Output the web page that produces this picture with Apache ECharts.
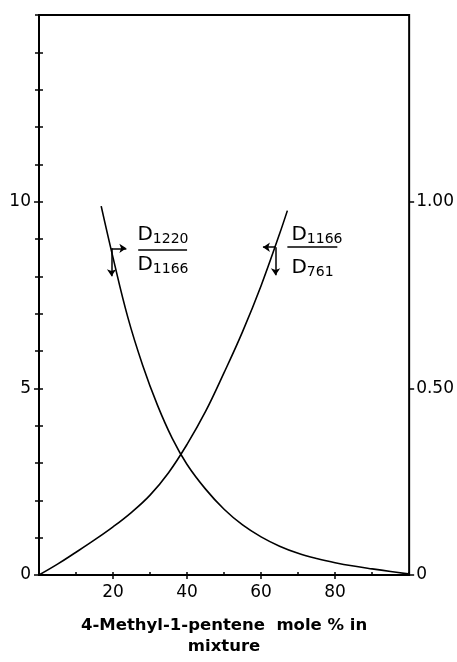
<!DOCTYPE html>
<html>
<head>
<meta charset="utf-8">
<script src="https://cdn.jsdelivr.net/npm/echarts@6/dist/echarts.min.js"></script>
<style>
  html, body { margin: 0; padding: 0; background: #fff; }
  #chart { width: 457px; height: 662px; }
</style>
</head>
<body>
<div id="chart"></div>
<script>
// D1220 / D1166 ratio vs. 4-methyl-1-pentene mole % (left axis)
const ratioAMole  = [16.8, 20, 24, 28, 32, 36, 40, 45, 50, 55, 60, 65, 70, 75, 80, 85, 90, 95, 99.7];
const ratioAValue = [9.88, 8.50, 6.90, 5.62, 4.55, 3.66, 2.96, 2.30, 1.76, 1.34, 1.02, 0.77, 0.58, 0.44, 0.33, 0.24, 0.165, 0.095, 0.03];

// D1166 / D761 ratio vs. mole % (right axis)
const ratioBMole  = [0, 5, 10, 15, 20, 25, 30, 35, 40, 45, 50, 55, 60, 65, 67.1];
const ratioBValue = [0, 0.029, 0.061, 0.094, 0.129, 0.168, 0.214, 0.274, 0.350, 0.438, 0.542, 0.652, 0.775, 0.914, 0.976];

// Tick labels
const xTickLabels = [20, 40, 60, 80];
const leftTickLabels = [0, 5, 10];
const rightTickValues = [0, 0.5, 1.0];
const rightTickLabels = ['0', '0.50', '1.00'];

const FONT = 'DejaVu Sans';
const BLACK = '#000';

function pairs(xs, ys) { return xs.map((x, i) => [x, ys[i]]); }

const rich = {
  d: { fontFamily: FONT, fontSize: 20, color: BLACK, lineHeight: 23 },
  s: { fontFamily: FONT, fontSize: 14, color: BLACK, lineHeight: 14, padding: [9, 0, 0, 0] }
};

const arrowLine = { color: BLACK, width: 1.5, type: 'solid' };

// one straight segment between two data points, optionally ending in an arrowhead
function seg(a, b, arrow) {
  return [
    { coord: a, symbol: 'none' },
    { coord: b, symbol: arrow ? 'arrow' : 'none', symbolSize: arrow ? 7 : 0 }
  ];
}

// left-aligned rich text anchored at a data point
function fracLabel(coord, text) {
  return {
    coord: coord,
    symbol: 'circle',
    symbolSize: 0,
    label: {
      show: true, position: 'right', distance: 0, align: 'left', verticalAlign: 'middle',
      formatter: text, rich: rich
    }
  };
}

const chart = echarts.init(document.getElementById('chart'), null, { renderer: 'canvas' });

const baseLabel = { fontFamily: FONT, fontSize: 17, color: BLACK };
const tickStyle = { color: BLACK, width: 1.5 };

chart.setOption({
  animation: false,
  backgroundColor: '#fff',
  grid: { left: 39, right: 40, top: 15, bottom: 83, show: true, borderColor: BLACK, borderWidth: 2, backgroundColor: 'transparent' },
  xAxis: [
    {
      type: 'value', min: 0, max: 100, interval: 10, position: 'bottom',
      axisLine: { show: true, lineStyle: { color: BLACK, width: 2 } },
      axisTick: { show: true, inside: true, length: 3, lineStyle: tickStyle },
      splitLine: { show: false },
      axisLabel: Object.assign({}, baseLabel, {
        margin: 9,
        formatter: v => xTickLabels.includes(v) ? String(v) : ''
      }),
      name: '4-Methyl-1-pentene  mole % in\nmixture',
      nameLocation: 'middle',
      nameGap: 40,
      nameTextStyle: { fontFamily: FONT, fontSize: 16.5, fontWeight: 'bold', color: BLACK, lineHeight: 21 }
    },
    {
      // crossing ticks at the labelled mole-% values
      type: 'value', min: 0, max: 100, interval: 20, position: 'bottom',
      axisLine: { show: false },
      axisTick: { show: true, inside: false, length: 4, customValues: xTickLabels, lineStyle: tickStyle },
      axisLabel: { show: false },
      splitLine: { show: false }
    }
  ],
  yAxis: [
    {
      type: 'value', min: 0, max: 15, interval: 1, position: 'left',
      axisLine: { show: true, lineStyle: { color: BLACK, width: 2 } },
      axisTick: { show: true, inside: true, length: 4, lineStyle: tickStyle },
      splitLine: { show: false },
      axisLabel: Object.assign({}, baseLabel, {
        margin: 8,
        formatter: v => leftTickLabels.includes(v) ? String(v) : ''
      })
    },
    {
      type: 'value', min: 0, max: 1.5, interval: 0.1, position: 'right',
      axisLine: { show: true, lineStyle: { color: BLACK, width: 2 } },
      axisTick: { show: true, inside: true, length: 4, lineStyle: tickStyle },
      splitLine: { show: false },
      axisLabel: Object.assign({}, baseLabel, {
        margin: 7,
        formatter: v => {
          const i = rightTickValues.findIndex(t => Math.abs(t - v) < 1e-6);
          return i >= 0 ? rightTickLabels[i] : '';
        }
      })
    },
    {
      type: 'value', min: 0, max: 15, interval: 5, position: 'left',
      axisLine: { show: false },
      axisTick: { show: true, inside: false, length: 5, customValues: leftTickLabels, lineStyle: tickStyle },
      axisLabel: { show: false },
      splitLine: { show: false }
    },
    {
      type: 'value', min: 0, max: 1.5, interval: 0.5, position: 'right',
      axisLine: { show: false },
      axisTick: { show: true, inside: false, length: 5, customValues: rightTickValues, lineStyle: tickStyle },
      axisLabel: { show: false },
      splitLine: { show: false }
    }
  ],
  series: [
    {
      name: 'D1220/D1166',
      type: 'line',
      xAxisIndex: 0, yAxisIndex: 0,
      data: pairs(ratioAMole, ratioAValue),
      smooth: 0.4,
      showSymbol: false,
      silent: true,
      lineStyle: { color: BLACK, width: 1.6 },
      markLine: {
        silent: true,
        symbol: ['none', 'arrow'],
        label: { show: false },
        lineStyle: arrowLine,
        emphasis: { disabled: true },
        data: [
          seg([19.6, 8.75], [23.6, 8.75], true),
          seg([19.6, 8.75], [19.6, 8.0], true),
          seg([26.8, 8.72], [40.0, 8.72], false)
        ]
      },
      markPoint: {
        silent: true,
        data: [
          fracLabel([26.6, 9.1], '{d|D}{s|1220}'),
          fracLabel([26.6, 8.32], '{d|D}{s|1166}')
        ]
      }
    },
    {
      name: 'D1166/D761',
      type: 'line',
      xAxisIndex: 0, yAxisIndex: 1,
      data: pairs(ratioBMole, ratioBValue),
      smooth: 0.4,
      showSymbol: false,
      silent: true,
      lineStyle: { color: BLACK, width: 1.6 },
      markLine: {
        silent: true,
        symbol: ['none', 'arrow'],
        label: { show: false },
        lineStyle: arrowLine,
        emphasis: { disabled: true },
        data: [
          seg([63.9, 0.878], [60.5, 0.878], true),
          seg([63.9, 0.878], [63.9, 0.803], true),
          seg([67.1, 0.878], [80.6, 0.878], false)
        ]
      },
      markPoint: {
        silent: true,
        data: [
          fracLabel([68.2, 0.91], '{d|D}{s|1166}'),
          fracLabel([68.2, 0.822], '{d|D}{s|761}')
        ]
      }
    }
  ]
});
</script>
</body>
</html>
